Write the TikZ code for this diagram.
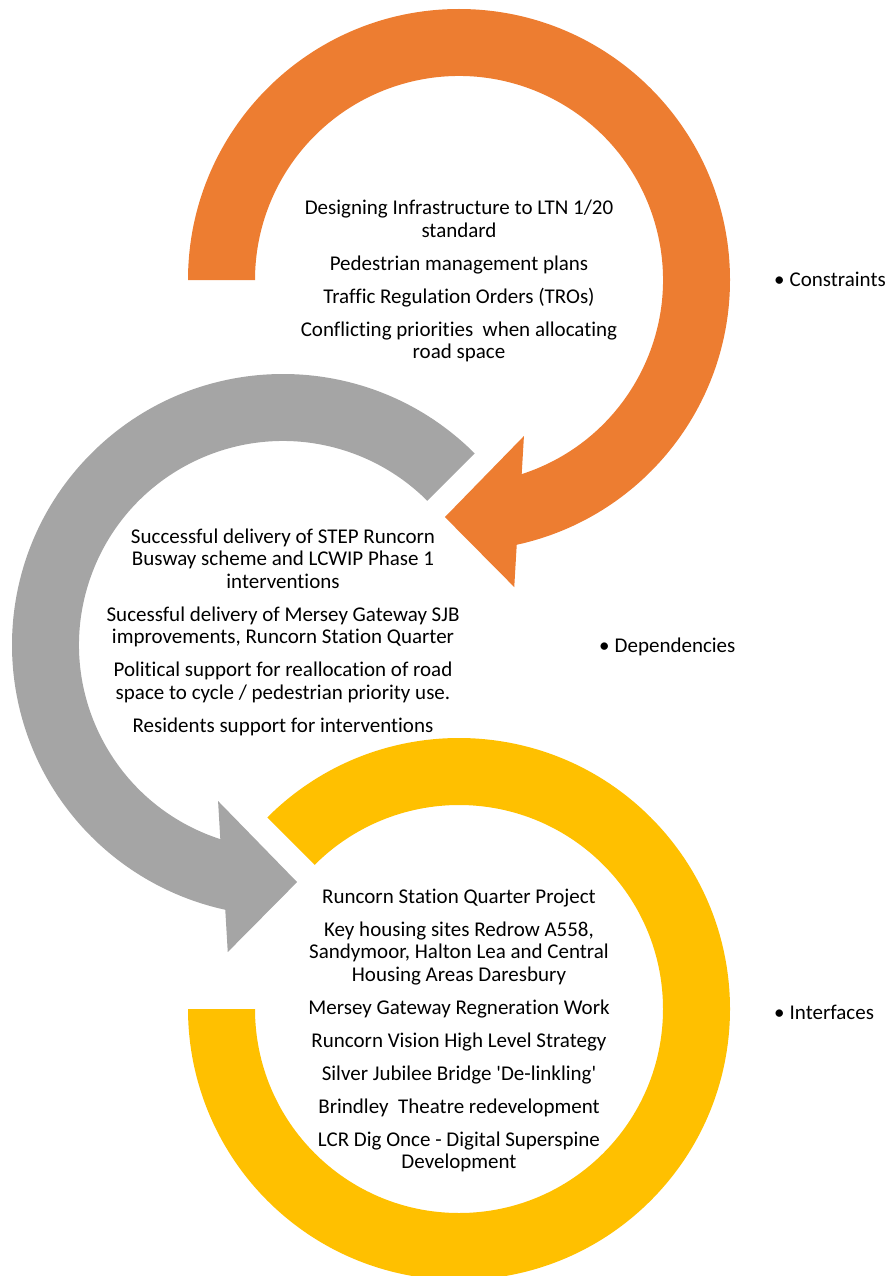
\documentclass[tikz,border=0pt]{standalone}
\usepackage{fontspec}
\newfontfamily\bodyfont{Carlito}[Ligatures={NoCommon}]
\usetikzlibrary{calc}
\definecolor{accOrange}{HTML}{ED7D31}
\definecolor{accGray}{HTML}{A5A5A5}
\definecolor{accGold}{HTML}{FFC000}
\tikzset{
  body/.style={align=center, font=\bodyfont\fontsize{21}{22.5}\selectfont, inner sep=0pt},
  side/.style={anchor=west, font=\bodyfont\fontsize{21}{22.5}\selectfont, inner sep=0pt},
}
\begin{document}
\begin{tikzpicture}[x=1pt,y=1pt]
\useasboundingbox (0,0) rectangle (890,-1276);

% ring centres
\coordinate (oc) at (459,-280);
\coordinate (gc) at (283,-645);
\coordinate (yc) at (459,-1009);

% orange circular arrow (clockwise, from 9 o'clock)
\fill[accOrange] ($(oc)+(180:271)$) arc[start angle=180, end angle=-77.7, radius=271]
  -- ($(oc)+(-79.8:312)$) -- ($(oc)+(-93.4:237.5)$) -- ($(oc)+(-67.4:169)$)
  -- ($(oc)+(-72.1:204)$) arc[start angle=-72.1, end angle=180, radius=204] -- cycle;

% gray circular arrow (anticlockwise, from 45 degrees)
\fill[accGray] ($(gc)+(45:271)$) arc[start angle=45, end angle=257.7, radius=271]
  -- ($(gc)+(259.8:312)$) -- ($(gc)+(273.4:237.5)$) -- ($(gc)+(247.4:169)$)
  -- ($(gc)+(252.1:204)$) arc[start angle=252.1, end angle=45, radius=204] -- cycle;

% gold open ring
\fill[accGold] ($(yc)+(135:271)$) arc[start angle=135, end angle=-180, radius=271]
  -- ($(yc)+(180:204)$) arc[start angle=-180, end angle=135, radius=204] -- cycle;

% texts inside the rings
\node[body] (ctext) at (459,-281) {Designing Infrastructure to LTN 1/20\\ standard\\[10.5pt]
Pedestrian management plans\\[10.5pt]
Traffic Regulation Orders (TROs)\\[10.5pt]
Conflicting priorities \ when allocating\\ road space};

\node[body] (dtext) at (283,-632) {Successful delivery of STEP Runcorn\\ Busway scheme and LCWIP Phase 1\\ interventions\\[10.5pt]
Sucessful delivery of Mersey Gateway SJB\\ improvements, Runcorn Station Quarter\\[10.5pt]
Political support for reallocation of road\\ space to cycle / pedestrian priority use.\\[10.5pt]
Residents support for interventions};

\node[body] (itext) at (459,-1030.5) {Runcorn Station Quarter Project\\[10.5pt]
Key housing sites Redrow A558,\\ Sandymoor, Halton Lea and Central\\ Housing Areas Daresbury\\[10.5pt]
Mersey Gateway Regneration Work\\[10.5pt]
Runcorn Vision High Level Strategy\\[10.5pt]
Silver Jubilee Bridge 'De-linkling'\\[10.5pt]
Brindley \ Theatre redevelopment\\[10.5pt]
LCR Dig Once - Digital Superspine\\ Development};

% side labels
\node[side] (clab) at (774,-279) {•\hspace{5pt}Constraints};
\node[side] (dlab) at (599,-647) {•\hspace{5pt}Dependencies};
\node[side] (ilab) at (774,-1012) {•\hspace{5pt}Interfaces};
\end{tikzpicture}
\end{document}
